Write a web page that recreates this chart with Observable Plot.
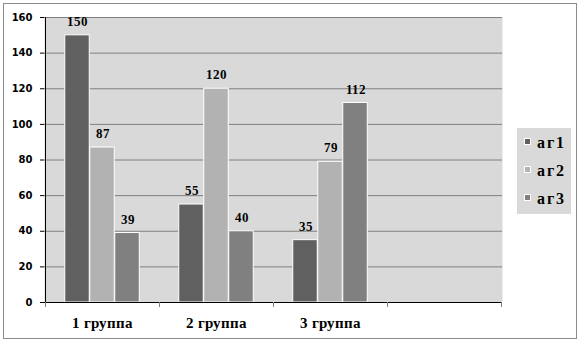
<!DOCTYPE html>
<html><head><meta charset="utf-8">
<script src="https://cdn.jsdelivr.net/npm/d3@7"></script>
<script src="https://cdn.jsdelivr.net/npm/@observablehq/plot@0.6"></script>
<style>
@font-face{font-family:"ChartSerif";font-weight:bold;src:local("Liberation Serif Bold"),local("LiberationSerif-Bold"),local("DejaVu Serif Bold"),local("DejaVuSerif-Bold"),local("Times New Roman Bold"),local("Tinos Bold"),local("Noto Serif Bold");}
body{margin:0;background:#fff;}
#wrap{position:relative;width:584px;height:343px;overflow:hidden;}
#wrap svg{position:absolute;left:0;top:0;}
#border{position:absolute;left:3px;top:3px;width:572px;height:334px;border:1px solid #8c8c8c;}
#legend{position:absolute;left:517px;top:128px;width:54px;height:86px;background:#d9d9d9;}
.item{position:absolute;left:7px;height:20px;}
.sw{position:absolute;left:0;width:7px;height:7px;box-sizing:border-box;border:1px solid #fff;}
.lt{position:absolute;left:13px;top:-1px;font-family:"ChartSerif","Liberation Serif","Times New Roman","DejaVu Serif",serif;font-weight:bold;font-size:16px;letter-spacing:2px;white-space:nowrap;color:#000;}
</style></head><body><div id="wrap"></div>
<script>
const groups = ["1 группа", "2 группа", "3 группа"];
const spacer = "·";
const seriesNames = ["аг1", "аг2", "аг3"];
const ag1 = [150, 55, 35];
const ag2 = [87, 120, 79];
const ag3 = [39, 40, 112];
const seriesColors = ["#606060", "#b2b2b2", "#808080"];
const yTicks = [0, 20, 40, 60, 80, 100, 120, 140, 160];

const serif = "ChartSerif, 'Liberation Serif', 'Times New Roman', 'DejaVu Serif', serif";
const seriesValues = [ag1, ag2, ag3];
const W = 584, H = 343;
const margin = {left: 44, right: 82, top: 17, bottom: 41};
const bw = (W - margin.left - margin.right) / (groups.length + 1);
const barW = 25;
const inset = (bw - barW) / 2;

const marks = [Plot.frame({fill: "#d9d9d9", stroke: null}),
  Plot.gridY(yTicks, {stroke: "#808080", strokeOpacity: 1})];
seriesValues.forEach((vals, i) => {
  const data = groups.map((g, j) => ({group: g, value: vals[j]}));
  const off = (i - (seriesValues.length - 1) / 2) * barW;
  marks.push(Plot.barY(data, {x: "group", y: "value", fill: seriesColors[i], stroke: "#fff", strokeWidth: 1,
    insetLeft: inset, insetRight: inset, dx: off}));
  marks.push(Plot.text(data, {x: "group", y: "value", text: d => String(d.value), dx: off, dy: -9.5,
    lineAnchor: "bottom", fontFamily: serif, fontWeight: "bold", fontSize: 13, fill: "#000"}));
});
marks.push(Plot.ruleY([0], {stroke: "#000"}));
marks.push(Plot.axisY(yTicks, {tickSize: 4, tickPadding: 8, fontFamily: "DejaVu Sans", fontWeight: "bold", fontSize: 10, color: "#000", label: null}));
marks.push(Plot.axisX({tickSize: 0, tickPadding: 15, fontFamily: serif, fontWeight: "bold", fontSize: 15, color: "#000",
  label: null, tickFormat: d => groups.includes(d) ? d : ""}));

const plot = Plot.plot({
  width: W, height: H,
  marginLeft: margin.left, marginRight: margin.right, marginTop: margin.top, marginBottom: margin.bottom,
  x: {type: "band", domain: [...groups, spacer], padding: 0},
  y: {domain: [0, 160]},
  style: {background: "transparent", overflow: "visible"},
  marks
});

const xs = plot.scale("x"), ys = plot.scale("y");
const svg = d3.select(plot);
const y0 = ys.apply(0), yTop = ys.apply(160);
const edges = [...groups, spacer].map(d => xs.apply(d));
edges.push(edges[edges.length - 1] + xs.bandwidth);
const g = svg.append("g");
g.append("line").attr("x1", edges[0] + 0.5).attr("x2", edges[0] + 0.5).attr("y1", yTop).attr("y2", y0).attr("stroke", "#000");
edges.forEach(x => g.append("line").attr("x1", Math.round(x) + 0.5).attr("x2", Math.round(x) + 0.5)
  .attr("y1", y0).attr("y2", y0 + 5).attr("stroke", "#808080"));

const wrap = document.getElementById("wrap");
wrap.appendChild(plot);
const border = document.createElement("div"); border.id = "border"; wrap.appendChild(border);
const legend = document.createElement("div"); legend.id = "legend";
seriesNames.forEach((n, i) => {
  const it = document.createElement("div"); it.className = "item"; it.style.top = (7 + i * 28) + "px";
  const sw = document.createElement("div"); sw.className = "sw"; sw.style.background = seriesColors[i]; sw.style.top = "3px";
  const t = document.createElement("div"); t.className = "lt"; t.textContent = n;
  it.appendChild(sw); it.appendChild(t); legend.appendChild(it);
});
wrap.appendChild(legend);
</script></body></html>
